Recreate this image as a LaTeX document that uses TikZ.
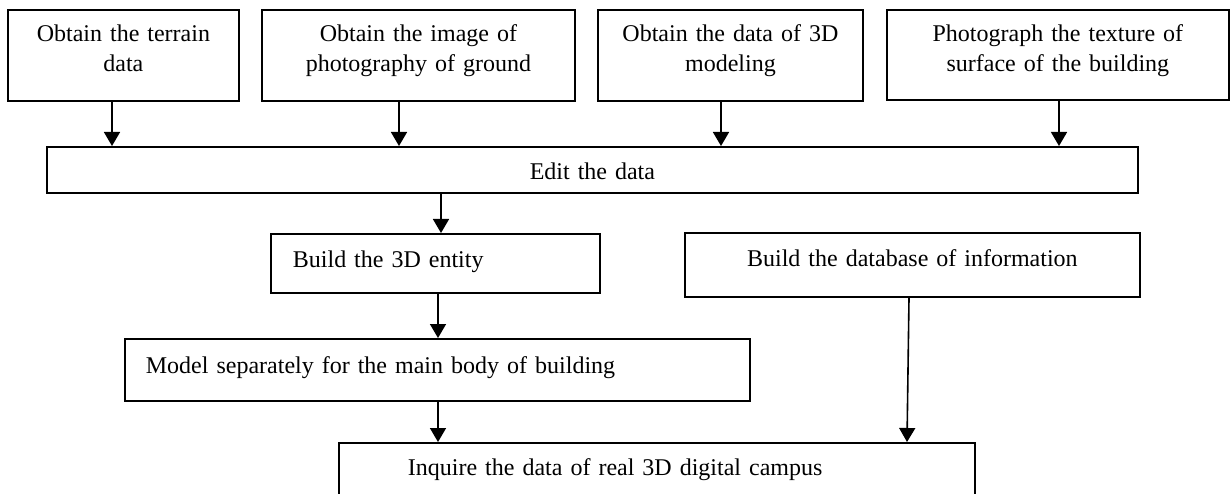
\documentclass[tikz,border=0pt]{standalone}
\usepackage{fontspec}
\setmainfont{Liberation Serif}
\usetikzlibrary{arrows.meta}
\begin{document}
\begin{tikzpicture}[x=1pt,y=-1pt,
  box/.style={draw, line width=1.8pt, inner sep=0pt, anchor=north west,
    font=\fontsize{24}{30}\selectfont},
  arr/.style={line width=1.6pt, -{Triangle[length=14pt,width=16pt]}}]
\fill[white] (0,0) rectangle (1230,494);
\useasboundingbox (0,0) rectangle (1230,494);
% top row
\node[box, minimum width=231pt, text width=231pt, align=center, text height=32pt, text depth=59pt] (b1) at (7,9) {Obtain the terrain\\data};
\node[box, minimum width=313pt, text width=313pt, align=center, text height=32pt, text depth=59pt] (b2) at (261,9) {Obtain the image of\\photography of ground};
\node[box, minimum width=265pt, text width=265pt, align=center, text height=32pt, text depth=59pt] (b3) at (597,9) {Obtain the data of 3D\\modeling};
\node[box, minimum width=342pt, text width=342pt, align=center, text height=32pt, text depth=58pt] (b4) at (886,9) {Photograph the texture of\\surface of the building};
% edit
\node[box, minimum width=1091pt, text width=1091pt, align=center, text height=33pt, text depth=13pt] (edit) at (46,146) {Edit the data};
% second level
\node[box, minimum width=329pt, text width=285pt, align=left, text height=33.7pt, text depth=25.3pt] (ent) at (270,233) {Build the 3D entity};
\node[box, minimum width=455pt, text width=455pt, align=center, text height=33.7pt, text depth=30.3pt] (db) at (684,232) {Build the database of information};
\node[box, minimum width=625pt, text width=583pt, align=left, text height=34.3pt, text depth=27.7pt] (model) at (124,338) {Model separately for the main body of building};
\node[box, minimum width=636pt, text width=498pt, align=left, text height=33pt, text depth=27pt] (inq) at (338,442) {Inquire the data of real 3D digital campus};
% arrow columns
\coordinate (c1) at (112,0);
\coordinate (c2) at (399,0);
\coordinate (c3) at (721,0);
\coordinate (c4) at (1059,0);
\coordinate (c5) at (441,0);
\coordinate (c6) at (438,0);
\coordinate (c7a) at (909,0);
\coordinate (c7b) at (907,0);
\draw[arr] (c1 |- b1.south) -- (c1 |- edit.north);
\draw[arr] (c2 |- b2.south) -- (c2 |- edit.north);
\draw[arr] (c3 |- b3.south) -- (c3 |- edit.north);
\draw[arr] (c4 |- b4.south) -- (c4 |- edit.north);
\draw[arr] (c5 |- edit.south) -- (c5 |- ent.north);
\draw[arr] (c6 |- ent.south) -- (c6 |- model.north);
\draw[arr] (c6 |- model.south) -- (c6 |- inq.north);
\draw[arr] (c7a |- db.south) -- (c7b |- inq.north);
\end{tikzpicture}
\end{document}
